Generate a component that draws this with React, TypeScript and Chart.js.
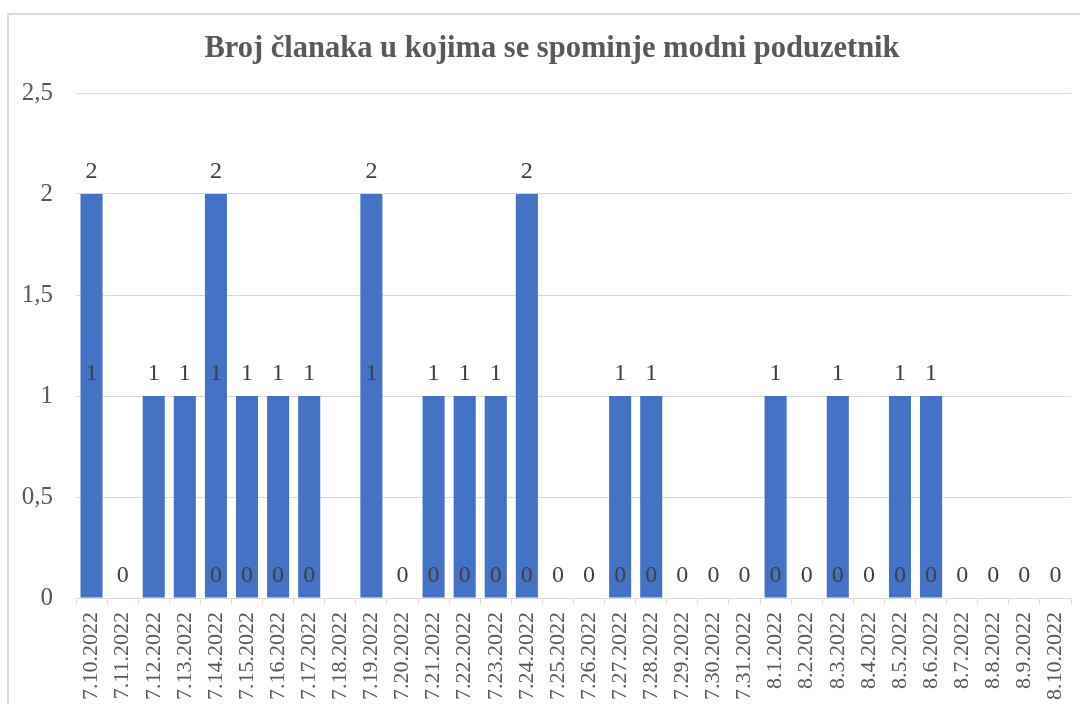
import React, { useEffect, useRef } from "react";
import { Chart, registerables } from "chart.js";

Chart.register(...registerables);

const titleText = "Broj članaka u kojima se spominje modni poduzetnik";

const categories = [
  "7.10.2022", "7.11.2022", "7.12.2022", "7.13.2022", "7.14.2022", "7.15.2022",
  "7.16.2022", "7.17.2022", "7.18.2022", "7.19.2022", "7.20.2022", "7.21.2022",
  "7.22.2022", "7.23.2022", "7.24.2022", "7.25.2022", "7.26.2022", "7.27.2022",
  "7.28.2022", "7.29.2022", "7.30.2022", "7.31.2022", "8.1.2022", "8.2.2022",
  "8.3.2022", "8.4.2022", "8.5.2022", "8.6.2022", "8.7.2022", "8.8.2022",
  "8.9.2022", "8.10.2022",
];

const counts = [2, 0, 1, 1, 2, 1, 1, 1, 0, 2, 0, 1, 1, 1, 2, 0, 0, 1, 1, 0, 0, 0, 1, 0, 1, 0, 1, 1, 0, 0, 0, 0];

// data labels as shown in the picture (three label series)
const labelTwo = [2, null, null, null, 2, null, null, null, null, 2, null, null, null, null, 2, null,
  null, null, null, null, null, null, null, null, null, null, null, null, null, null, null, null];
const labelOne = [1, null, 1, 1, 1, 1, 1, 1, null, 1, null, 1, 1, 1, null, null,
  null, 1, 1, null, null, null, 1, null, 1, null, 1, 1, null, null, null, null];
const labelZero = [null, 0, null, null, 0, 0, 0, 0, null, null, 0, 0, 0, 0, 0, 0,
  0, 0, 0, 0, 0, 0, 0, 0, 0, 0, 0, 0, 0, 0, 0, 0];

const yMin = 0;
const yMax = 2.5;
const yStep = 0.5;

const SERIF = "'Liberation Serif', 'Times New Roman', serif";

const framePlugin = {
  id: "frameAndTitle",
  beforeDraw(chart: any) {
    const ctx = chart.ctx;
    ctx.save();
    ctx.fillStyle = "#ffffff";
    ctx.fillRect(0, 0, chart.width, chart.height);
    ctx.strokeStyle = "#d9d9d9";
    ctx.lineWidth = 2;
    ctx.beginPath();
    ctx.moveTo(8, chart.height + 2);
    ctx.lineTo(8, 14);
    ctx.lineTo(chart.width + 2, 14);
    ctx.stroke();
    ctx.fillStyle = "#595959";
    ctx.font = `bold 30.5px ${SERIF}`;
    ctx.textAlign = "center";
    ctx.textBaseline = "middle";
    ctx.fillText(titleText, 552, 49);
    ctx.restore();
  },
};

const labelPlugin = {
  id: "seriesLabels",
  afterDatasetsDraw(chart: any) {
    const ctx = chart.ctx;
    const xs = chart.scales.x;
    const ys = chart.scales.y;
    ctx.save();
    ctx.fillStyle = "#404040";
    ctx.font = `24px ${SERIF}`;
    ctx.textAlign = "center";
    ctx.textBaseline = "middle";
    chart.data.datasets.forEach((ds: any) => {
      if (!ds.isLabelSeries) return;
      ds.data.forEach((v: number | null, j: number) => {
        if (v === null || v === undefined) return;
        const x = xs.getPixelForValue(j);
        const y = ys.getPixelForValue(v);
        ctx.fillText(String(v), x, y - 22);
      });
    });
    ctx.restore();
  },
};

export default function App() {
  const ref = useRef<HTMLCanvasElement | null>(null);

  useEffect(() => {
    if (!ref.current) return;
    const chart = new Chart(ref.current, {
      type: "bar",
      data: {
        labels: categories,
        datasets: [
          {
            type: "bar",
            label: "Broj članaka",
            data: counts,
            backgroundColor: "#4472C4",
            borderWidth: 0,
            barPercentage: 0.71,
            categoryPercentage: 1,
          } as any,
          { type: "line", label: "2", data: labelTwo, showLine: false, pointRadius: 0, isLabelSeries: true } as any,
          { type: "line", label: "1", data: labelOne, showLine: false, pointRadius: 0, isLabelSeries: true } as any,
          { type: "line", label: "0", data: labelZero, showLine: false, pointRadius: 0, isLabelSeries: true } as any,
        ],
      },
      options: {
        animation: false,
        responsive: false,
        maintainAspectRatio: false,
        events: [],
        layout: { padding: { top: 93, right: 9, left: 0, bottom: 0 } },
        plugins: {
          legend: { display: false },
          title: { display: false },
          tooltip: { enabled: false },
        },
        scales: {
          x: {
            type: "category",
            offset: true,
            grid: {
              display: true,
              drawOnChartArea: false,
              drawTicks: true,
              tickLength: 6,
              offset: true,
              color: "#d9d9d9",
              lineWidth: 1,
            },
            border: { display: true, color: "#d9d9d9", width: 1 },
            ticks: {
              autoSkip: false,
              minRotation: 90,
              maxRotation: 90,
              padding: 8,
              color: "#595959",
              font: { family: SERIF, size: 22 },
            },
            afterFit(scale: any) {
              scale.height = 106;
              scale.paddingLeft = 0;
              scale.paddingRight = 0;
            },
          },
          y: {
            min: yMin,
            max: yMax,
            grid: { color: "#d9d9d9", lineWidth: 1, drawTicks: false },
            border: { display: false },
            ticks: {
              stepSize: yStep,
              padding: 23,
              color: "#595959",
              font: { family: SERIF, size: 25 },
              callback: (v: any) => String(v).replace(".", ","),
            },
            afterFit(scale: any) {
              scale.width = 76;
            },
          },
        },
      } as any,
      plugins: [framePlugin, labelPlugin],
    });
    return () => chart.destroy();
  }, []);

  return (
    <div style={{ position: "fixed", left: 0, top: 0, width: 1080, height: 704, background: "#fff" }}>
      <canvas ref={ref} width={1080} height={704} style={{ display: "block", width: 1080, height: 704 }} />
    </div>
  );
}
